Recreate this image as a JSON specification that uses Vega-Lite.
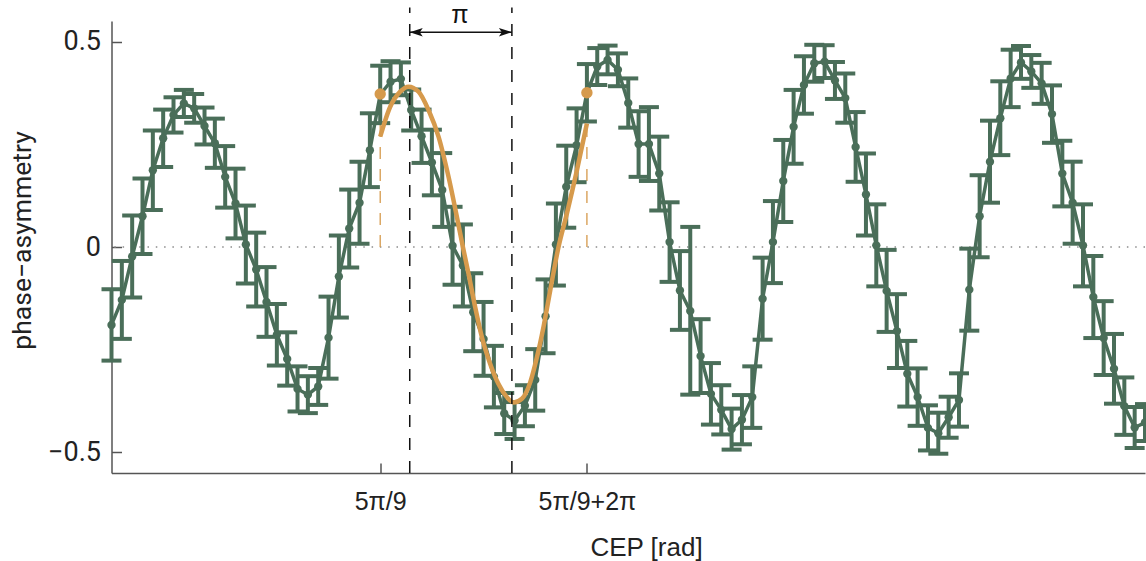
{
  "$schema": "https://vega.github.io/schema/vega-lite/v6.json",
  "width": 1033.5,
  "height": 452,
  "autosize": {"type": "none"},
  "padding": {"left": 111.5, "top": 21, "right": 0.5, "bottom": 88},
  "background": "white",
  "config": {"view": {"stroke": null}, "font": "Liberation Sans"},
  "datasets": {
    "pts": [
      {"x": -6.4228, "y": -0.190, "lo": -0.277, "hi": -0.103},
      {"x": -6.1087, "y": -0.129, "lo": -0.224, "hi": -0.034},
      {"x": -5.7945, "y": -0.023, "lo": -0.123, "hi": 0.077},
      {"x": -5.4803, "y": 0.075, "lo": -0.017, "hi": 0.167},
      {"x": -5.1662, "y": 0.187, "lo": 0.090, "hi": 0.284},
      {"x": -4.8520, "y": 0.265, "lo": 0.195, "hi": 0.335},
      {"x": -4.5379, "y": 0.322, "lo": 0.279, "hi": 0.365},
      {"x": -4.2237, "y": 0.350, "lo": 0.317, "hi": 0.383},
      {"x": -3.9095, "y": 0.338, "lo": 0.303, "hi": 0.373},
      {"x": -3.5954, "y": 0.295, "lo": 0.250, "hi": 0.340},
      {"x": -3.2812, "y": 0.253, "lo": 0.193, "hi": 0.313},
      {"x": -2.9671, "y": 0.171, "lo": 0.096, "hi": 0.246},
      {"x": -2.6529, "y": 0.106, "lo": 0.021, "hi": 0.191},
      {"x": -2.3387, "y": 0.006, "lo": -0.089, "hi": 0.101},
      {"x": -2.0246, "y": -0.055, "lo": -0.145, "hi": 0.035},
      {"x": -1.7104, "y": -0.134, "lo": -0.219, "hi": -0.049},
      {"x": -1.3963, "y": -0.214, "lo": -0.289, "hi": -0.139},
      {"x": -1.0821, "y": -0.273, "lo": -0.338, "hi": -0.208},
      {"x": -0.7679, "y": -0.346, "lo": -0.401, "hi": -0.291},
      {"x": -0.4538, "y": -0.360, "lo": -0.405, "hi": -0.315},
      {"x": -0.1396, "y": -0.340, "lo": -0.385, "hi": -0.295},
      {"x": 0.1745, "y": -0.221, "lo": -0.321, "hi": -0.121},
      {"x": 0.4887, "y": -0.072, "lo": -0.172, "hi": 0.028},
      {"x": 0.8029, "y": 0.045, "lo": -0.050, "hi": 0.140},
      {"x": 1.1170, "y": 0.108, "lo": 0.008, "hi": 0.208},
      {"x": 1.4312, "y": 0.236, "lo": 0.146, "hi": 0.326},
      {"x": 1.7453, "y": 0.372, "lo": 0.302, "hi": 0.442},
      {"x": 2.0595, "y": 0.403, "lo": 0.353, "hi": 0.453},
      {"x": 2.3736, "y": 0.410, "lo": 0.370, "hi": 0.450},
      {"x": 2.6878, "y": 0.334, "lo": 0.284, "hi": 0.384},
      {"x": 3.0020, "y": 0.270, "lo": 0.205, "hi": 0.335},
      {"x": 3.3161, "y": 0.206, "lo": 0.126, "hi": 0.286},
      {"x": 3.6303, "y": 0.139, "lo": 0.049, "hi": 0.229},
      {"x": 3.9444, "y": 0.003, "lo": -0.092, "hi": 0.098},
      {"x": 4.2586, "y": -0.045, "lo": -0.145, "hi": 0.055},
      {"x": 4.5728, "y": -0.159, "lo": -0.254, "hi": -0.064},
      {"x": 4.8869, "y": -0.224, "lo": -0.314, "hi": -0.134},
      {"x": 5.2011, "y": -0.316, "lo": -0.391, "hi": -0.241},
      {"x": 5.5152, "y": -0.406, "lo": -0.456, "hi": -0.356},
      {"x": 5.8294, "y": -0.423, "lo": -0.468, "hi": -0.378},
      {"x": 6.1436, "y": -0.387, "lo": -0.437, "hi": -0.337},
      {"x": 6.4577, "y": -0.324, "lo": -0.399, "hi": -0.249},
      {"x": 6.7719, "y": -0.169, "lo": -0.259, "hi": -0.079},
      {"x": 7.0860, "y": 0.006, "lo": -0.094, "hi": 0.106},
      {"x": 7.4002, "y": 0.147, "lo": 0.047, "hi": 0.247},
      {"x": 7.7144, "y": 0.248, "lo": 0.158, "hi": 0.338},
      {"x": 8.0285, "y": 0.376, "lo": 0.306, "hi": 0.446},
      {"x": 8.3427, "y": 0.440, "lo": 0.395, "hi": 0.485},
      {"x": 8.6568, "y": 0.456, "lo": 0.421, "hi": 0.491},
      {"x": 8.9710, "y": 0.432, "lo": 0.392, "hi": 0.472},
      {"x": 9.2852, "y": 0.351, "lo": 0.291, "hi": 0.411},
      {"x": 9.5993, "y": 0.251, "lo": 0.171, "hi": 0.331},
      {"x": 9.9135, "y": 0.251, "lo": 0.161, "hi": 0.341},
      {"x": 10.2276, "y": 0.179, "lo": 0.089, "hi": 0.269},
      {"x": 10.5418, "y": 0.012, "lo": -0.085, "hi": 0.109},
      {"x": 10.8560, "y": -0.106, "lo": -0.202, "hi": -0.010},
      {"x": 11.1701, "y": -0.156, "lo": -0.360, "hi": 0.049},
      {"x": 11.4843, "y": -0.266, "lo": -0.356, "hi": -0.176},
      {"x": 11.7984, "y": -0.358, "lo": -0.433, "hi": -0.283},
      {"x": 12.1126, "y": -0.397, "lo": -0.457, "hi": -0.337},
      {"x": 12.4268, "y": -0.444, "lo": -0.494, "hi": -0.394},
      {"x": 12.7409, "y": -0.421, "lo": -0.481, "hi": -0.361},
      {"x": 13.0551, "y": -0.366, "lo": -0.441, "hi": -0.291},
      {"x": 13.3692, "y": -0.126, "lo": -0.226, "hi": -0.026},
      {"x": 13.6834, "y": 0.012, "lo": -0.088, "hi": 0.112},
      {"x": 13.9976, "y": 0.161, "lo": 0.061, "hi": 0.261},
      {"x": 14.3117, "y": 0.293, "lo": 0.203, "hi": 0.383},
      {"x": 14.6259, "y": 0.395, "lo": 0.325, "hi": 0.465},
      {"x": 14.9400, "y": 0.448, "lo": 0.403, "hi": 0.493},
      {"x": 15.2542, "y": 0.452, "lo": 0.412, "hi": 0.492},
      {"x": 15.5684, "y": 0.406, "lo": 0.361, "hi": 0.451},
      {"x": 15.8825, "y": 0.363, "lo": 0.303, "hi": 0.423},
      {"x": 16.1967, "y": 0.244, "lo": 0.159, "hi": 0.329},
      {"x": 16.5108, "y": 0.128, "lo": 0.028, "hi": 0.228},
      {"x": 16.8250, "y": 0.004, "lo": -0.096, "hi": 0.104},
      {"x": 17.1392, "y": -0.107, "lo": -0.207, "hi": -0.007},
      {"x": 17.4533, "y": -0.205, "lo": -0.295, "hi": -0.115},
      {"x": 17.7675, "y": -0.309, "lo": -0.389, "hi": -0.229},
      {"x": 18.0816, "y": -0.366, "lo": -0.436, "hi": -0.296},
      {"x": 18.3958, "y": -0.441, "lo": -0.496, "hi": -0.386},
      {"x": 18.7100, "y": -0.454, "lo": -0.504, "hi": -0.404},
      {"x": 19.0241, "y": -0.415, "lo": -0.465, "hi": -0.365},
      {"x": 19.3383, "y": -0.373, "lo": -0.438, "hi": -0.308},
      {"x": 19.6524, "y": -0.104, "lo": -0.204, "hi": -0.004},
      {"x": 19.9666, "y": 0.075, "lo": -0.025, "hi": 0.175},
      {"x": 20.2808, "y": 0.208, "lo": 0.108, "hi": 0.308},
      {"x": 20.5949, "y": 0.314, "lo": 0.224, "hi": 0.404},
      {"x": 20.9091, "y": 0.411, "lo": 0.341, "hi": 0.481},
      {"x": 21.2232, "y": 0.450, "lo": 0.410, "hi": 0.490},
      {"x": 21.5374, "y": 0.428, "lo": 0.388, "hi": 0.468},
      {"x": 21.8516, "y": 0.399, "lo": 0.349, "hi": 0.449},
      {"x": 22.1657, "y": 0.324, "lo": 0.254, "hi": 0.394},
      {"x": 22.4799, "y": 0.179, "lo": 0.099, "hi": 0.259},
      {"x": 22.7940, "y": 0.108, "lo": 0.008, "hi": 0.208},
      {"x": 23.1082, "y": 0.004, "lo": -0.096, "hi": 0.104},
      {"x": 23.4224, "y": -0.122, "lo": -0.222, "hi": -0.022},
      {"x": 23.7365, "y": -0.222, "lo": -0.312, "hi": -0.132},
      {"x": 24.0507, "y": -0.297, "lo": -0.382, "hi": -0.212},
      {"x": 24.3648, "y": -0.388, "lo": -0.458, "hi": -0.318},
      {"x": 24.6790, "y": -0.440, "lo": -0.490, "hi": -0.390},
      {"x": 24.9931, "y": -0.428, "lo": -0.473, "hi": -0.383}
    ],
    "fit": [
      {"x": 1.7453, "y": 0.269},
      {"x": 2.049, "y": 0.342},
      {"x": 2.353, "y": 0.379},
      {"x": 2.606, "y": 0.391},
      {"x": 2.910, "y": 0.379},
      {"x": 3.214, "y": 0.334},
      {"x": 3.518, "y": 0.269},
      {"x": 3.822, "y": 0.171},
      {"x": 4.077, "y": 0.073},
      {"x": 4.259, "y": 0.0},
      {"x": 4.430, "y": -0.065},
      {"x": 4.633, "y": -0.147},
      {"x": 4.837, "y": -0.220},
      {"x": 5.089, "y": -0.285},
      {"x": 5.341, "y": -0.334},
      {"x": 5.597, "y": -0.366},
      {"x": 5.797, "y": -0.379},
      {"x": 6.053, "y": -0.370},
      {"x": 6.305, "y": -0.330},
      {"x": 6.509, "y": -0.269},
      {"x": 6.709, "y": -0.195},
      {"x": 6.913, "y": -0.106},
      {"x": 7.165, "y": 0.0},
      {"x": 7.421, "y": 0.082},
      {"x": 7.725, "y": 0.187},
      {"x": 8.0285, "y": 0.301}
    ],
    "dots": [
      {"x": 1.7453, "y": 0.373, "base": 0},
      {"x": 8.0285, "y": 0.376, "base": 0}
    ],
    "vlines": [
      {"x": 2.643, "y": -0.551, "y2": 0.584},
      {"x": 5.748, "y": -0.551, "y2": 0.584}
    ],
    "arrow": [
      {"x": 2.643, "x2": 5.748, "y": 0.5238}
    ],
    "heads": [
      {"x": 2.643, "y": 0.5238, "dir": "left"},
      {"x": 5.748, "y": 0.5238, "dir": "right"}
    ],
    "label": [
      {"x": 4.17, "y": 0.545, "text": "π"}
    ],
    "zero": [
      {"y": 0}
    ]
  },
  "encoding": {
    "x": {
      "type": "quantitative",
      "scale": {"domain": [-6.4228, 24.9931], "nice": false, "zero": false}
    },
    "y": {
      "type": "quantitative",
      "scale": {"domain": [-0.551, 0.551], "nice": false, "zero": false}
    }
  },
  "layer": [
    {
      "data": {"name": "zero"},
      "mark": {"type": "rule", "stroke": "#8c8c8c", "strokeWidth": 1.5, "strokeDash": [1.5, 6.8]},
      "encoding": {
        "y": {"field": "y", "type": "quantitative",
          "axis": {
            "values": [-0.5, 0, 0.5],
            "labelExpr": "datum.value == 0 ? '0' : (datum.value > 0 ? '0.5' : '−0.5')",
            "tickSize": -10,
            "tickWidth": 1.5,
            "tickColor": "#555555",
            "domainColor": "#555555",
            "domainWidth": 1.5,
            "grid": false,
            "labelPadding": 21,
            "labelFontSize": 27,
            "labelColor": "#222222",
            "labelFont": "Roboto",
            "title": "phase−asymmetry",
            "titleFont": "Roboto",
            "titleFontSize": 26.5,
            "titleFontWeight": "normal",
            "titleColor": "#222222",
            "titleAngle": 270,
            "titleAlign": "center",
            "titleBaseline": "alphabetic",
            "titleX": -81,
            "titleY": 219
          }
        }
      }
    },
    {
      "data": {"name": "dots"},
      "mark": {"type": "rule", "stroke": "#d69a4c", "strokeWidth": 1.3, "strokeDash": [12, 10]},
      "encoding": {
        "x": {"field": "x", "type": "quantitative",
          "axis": {
            "values": [1.74533, 8.02851],
            "labelExpr": "datum.value < 5 ? '5π/9' : '5π/9+2π'",
            "tickSize": -10,
            "tickWidth": 1.5,
            "tickColor": "#555555",
            "domainColor": "#555555",
            "domainWidth": 1.5,
            "grid": false,
            "labelPadding": 26,
            "labelFontSize": 25,
            "labelColor": "#222222",
            "labelFont": "Liberation Sans",
            "title": "CEP [rad]",
            "titleFont": "Liberation Sans",
            "titleFontSize": 26,
            "titleFontWeight": "normal",
            "titleColor": "#222222",
            "titleAlign": "center",
            "titleBaseline": "alphabetic",
            "titleX": 534.5,
            "titleY": 82
          }
        },
        "y": {"field": "base", "type": "quantitative"},
        "y2": {"field": "y"}
      }
    },
    {
      "data": {"name": "pts"},
      "mark": {"type": "rule", "stroke": "#4a6e59", "strokeWidth": 4},
      "encoding": {
        "x": {"field": "x", "type": "quantitative"},
        "y": {"field": "lo", "type": "quantitative"},
        "y2": {"field": "hi"}
      }
    },
    {
      "data": {"name": "pts"},
      "mark": {"type": "tick", "orient": "horizontal", "color": "#4a6e59", "size": 20, "thickness": 4, "opacity": 1},
      "encoding": {
        "x": {"field": "x", "type": "quantitative"},
        "y": {"field": "lo", "type": "quantitative"}
      }
    },
    {
      "data": {"name": "pts"},
      "mark": {"type": "tick", "orient": "horizontal", "color": "#4a6e59", "size": 20, "thickness": 4, "opacity": 1},
      "encoding": {
        "x": {"field": "x", "type": "quantitative"},
        "y": {"field": "hi", "type": "quantitative"}
      }
    },
    {
      "data": {"name": "pts"},
      "mark": {"type": "line", "stroke": "#4a6e59", "strokeWidth": 3.5},
      "encoding": {
        "x": {"field": "x", "type": "quantitative"},
        "y": {"field": "y", "type": "quantitative"}
      }
    },
    {
      "data": {"name": "pts"},
      "mark": {"type": "circle", "color": "#4a6e59", "size": 70, "opacity": 1},
      "encoding": {
        "x": {"field": "x", "type": "quantitative"},
        "y": {"field": "y", "type": "quantitative"}
      }
    },
    {
      "data": {"name": "fit"},
      "mark": {"type": "line", "stroke": "#d69a4c", "strokeWidth": 4.5, "interpolate": "monotone"},
      "encoding": {
        "x": {"field": "x", "type": "quantitative"},
        "y": {"field": "y", "type": "quantitative"}
      }
    },
    {
      "data": {"name": "dots"},
      "mark": {"type": "circle", "color": "#d69a4c", "size": 130, "opacity": 1},
      "encoding": {
        "x": {"field": "x", "type": "quantitative"},
        "y": {"field": "y", "type": "quantitative"}
      }
    },
    {
      "data": {"name": "vlines"},
      "mark": {"type": "rule", "stroke": "#111111", "strokeWidth": 1.5, "strokeDash": [12, 11]},
      "encoding": {
        "x": {"field": "x", "type": "quantitative"},
        "y": {"field": "y", "type": "quantitative"},
        "y2": {"field": "y2"}
      }
    },
    {
      "data": {"name": "arrow"},
      "mark": {"type": "rule", "stroke": "#111111", "strokeWidth": 1.5},
      "encoding": {
        "x": {"field": "x", "type": "quantitative"},
        "x2": {"field": "x2"},
        "y": {"field": "y", "type": "quantitative"}
      }
    },
    {
      "data": {"name": "heads"},
      "mark": {"type": "point", "filled": true, "color": "#111111", "size": 169, "opacity": 1, "strokeWidth": 0},
      "encoding": {
        "x": {"field": "x", "type": "quantitative"},
        "y": {"field": "y", "type": "quantitative"},
        "shape": {
          "field": "dir", "type": "nominal", "legend": null,
          "scale": {"domain": ["left", "right"], "range": ["M0,0L2,-0.65L1.55,0L2,0.65Z", "M0,0L-2,-0.65L-1.55,0L-2,0.65Z"]}
        }
      }
    },
    {
      "data": {"name": "label"},
      "mark": {"type": "text", "font": "Liberation Sans", "fontSize": 25, "color": "#111111", "align": "center", "baseline": "alphabetic"},
      "encoding": {
        "x": {"field": "x", "type": "quantitative"},
        "y": {"field": "y", "type": "quantitative"},
        "text": {"field": "text"}
      }
    }
  ]
}
